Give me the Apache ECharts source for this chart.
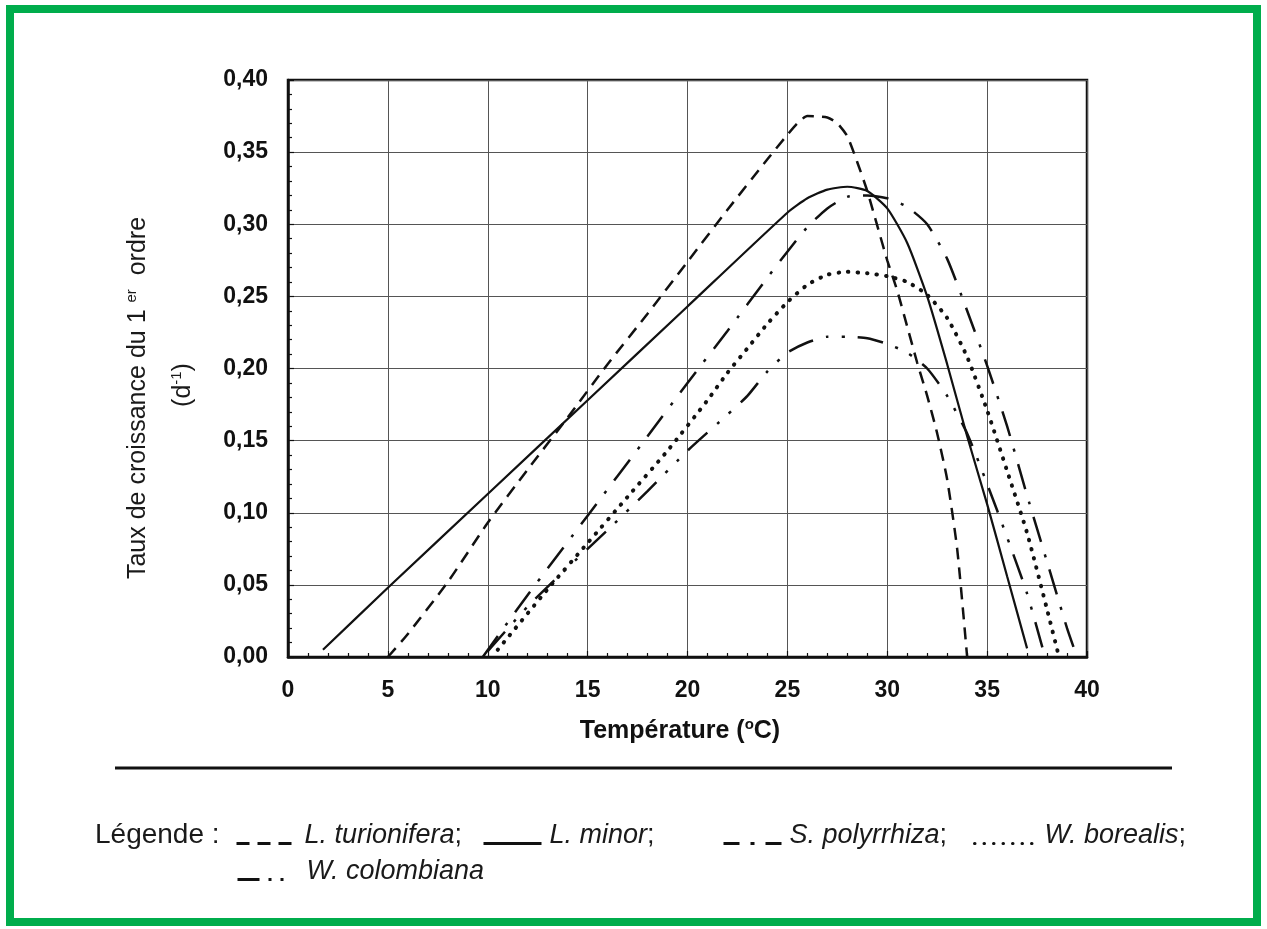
<!DOCTYPE html>
<html><head><meta charset="utf-8">
<script src="https://cdn.jsdelivr.net/npm/echarts@6/dist/echarts.min.js"></script>
<style>html,body{margin:0;padding:0;background:#fff;}#c{width:1267px;height:929px;}</style>
</head><body><div id="c"></div>
<script>
// ---- Data ----
const xTickValues = [0, 5, 10, 15, 20, 25, 30, 35, 40];
const yTickLabels = ['0,00', '0,05', '0,10', '0,15', '0,20', '0,25', '0,30', '0,35', '0,40'];
const seriesNames = ['L. turionifera', 'L. minor', 'S. polyrrhiza', 'W. borealis', 'W. colombiana'];

const turioniferaTemp = [5, 6, 8, 10, 12, 14, 16, 18, 20, 22, 24, 25, 25.5, 26, 27, 27.5, 28, 28.5, 29, 29.5, 30, 30.5, 31, 31.5, 32, 32.5, 33, 33.5, 34];
const turioniferaRate = [0, 0.016, 0.052, 0.093, 0.130, 0.166, 0.203, 0.238, 0.274, 0.310, 0.345, 0.362, 0.370, 0.375, 0.374, 0.370, 0.361, 0.343, 0.323, 0.299, 0.275, 0.254, 0.229, 0.204, 0.181, 0.155, 0.123, 0.075, 0.0];

const minorTemp = [1.75, 5, 10, 15, 20, 25, 26, 27, 28, 29, 30, 31, 32, 33, 34, 35, 36, 37];
const minorRate = [0.005, 0.048, 0.113, 0.178, 0.243, 0.308, 0.318, 0.324, 0.326, 0.323, 0.311, 0.287, 0.250, 0.203, 0.153, 0.106, 0.056, 0.006];

const polyrrhizaTemp = [9.75, 12, 15, 18, 20, 22, 24, 25, 26, 27, 28, 29, 30, 31, 32, 33, 34, 35, 36, 37, 38, 39, 39.5];
const polyrrhizaRate = [0.0, 0.043, 0.098, 0.153, 0.190, 0.226, 0.263, 0.281, 0.298, 0.311, 0.319, 0.320, 0.318, 0.312, 0.300, 0.276, 0.240, 0.202, 0.160, 0.112, 0.066, 0.020, 0.0];

const borealisTemp = [10.5, 13, 15, 17, 19, 21, 22, 23, 24, 25, 26, 27, 28, 29, 30, 31, 32, 33, 34, 35, 36, 37, 38, 38.6];
const borealisRate = [0.005, 0.047, 0.079, 0.111, 0.143, 0.178, 0.197, 0.214, 0.231, 0.246, 0.258, 0.265, 0.267, 0.266, 0.264, 0.260, 0.251, 0.235, 0.208, 0.171, 0.129, 0.086, 0.033, 0.0];

const colombianaTemp = [10, 12, 14, 16, 18, 20, 22, 23, 24, 25, 26, 27, 28, 29, 30, 31, 32, 33, 34, 35, 36, 37, 37.9];
const colombianaRate = [0.004, 0.035, 0.062, 0.088, 0.115, 0.143, 0.168, 0.181, 0.198, 0.211, 0.218, 0.222, 0.222, 0.221, 0.217, 0.211, 0.200, 0.181, 0.155, 0.120, 0.083, 0.044, 0.0];

// ---- Build ----
const FONT = "'Liberation Sans', Arial, Helvetica, sans-serif";
function pairs(xs, ys) { return xs.map((x, i) => [x, ys[i]]); }

const styles = [
  { type: [12, 8], width: 2.5, cap: 'butt', legendType: [13, 8], legendW: 60 },
  { type: 'solid', width: 2.2, cap: 'butt', legendType: 'solid', legendW: 58 },
  { type: [26, 13, 3, 13], width: 2.5, cap: 'butt', legendType: [16, 11, 4, 11], legendW: 58 },
  { type: [0.5, 9], width: 4, cap: 'round', legendType: [0.5, 9], legendW: 62 },
  { type: [26, 13, 3, 13, 3, 13], width: 2.5, cap: 'butt', legendType: [22, 9, 3, 9, 3, 9], legendW: 48 }
];
const dataSets = [
  pairs(turioniferaTemp, turioniferaRate),
  pairs(minorTemp, minorRate),
  pairs(polyrrhizaTemp, polyrrhizaRate),
  pairs(borealisTemp, borealisRate),
  pairs(colombianaTemp, colombianaRate)
];

const series = seriesNames.map((name, i) => ({
  name: name,
  type: 'line',
  data: dataSets[i],
  symbol: 'none',
  smooth: 0.2,
  color: '#111',
  lineStyle: { color: '#111', width: styles[i].width, type: styles[i].type, cap: styles[i].cap }
}));

const legendPos = [
  { left: 235, top: 822 },
  { left: 482, top: 822 },
  { left: 722, top: 822 },
  { left: 973, top: 822 },
  { left: 236, top: 858 }
];
const legends = seriesNames.map((name, i) => ({
  data: [name],
  left: legendPos[i].left,
  top: legendPos[i].top,
  padding: 0,
  itemWidth: styles[i].legendW,
  itemHeight: 14,
  itemGap: 0,
  selectedMode: false,
  itemStyle: { opacity: 0 },
  lineStyle: { width: 3, type: styles[i].legendType, cap: styles[i].cap, color: '#111' },
  formatter: n => '{i|' + n + '}' + (i < 4 ? '{n|;}' : ''),
  textStyle: {
    padding: [0, 0, 16, i === 4 ? 16 : 3],
    rich: {
      i: { fontFamily: FONT, fontSize: 27, fontStyle: 'italic', color: '#1a1a1a' },
      n: { fontFamily: FONT, fontSize: 27, color: '#1a1a1a' }
    }
  }
}));

const option = {
  backgroundColor: '#fff',
  animation: false,
  grid: { left: 288, right: 180, top: 80, bottom: 272, show: true, borderColor: '#111', borderWidth: 2.5, backgroundColor: 'transparent' },
  xAxis: {
    type: 'value', min: 0, max: 40, interval: 5,
    axisLine: { show: true, lineStyle: { color: '#111', width: 2.5 } },
    axisTick: { show: true, inside: true, length: 6, lineStyle: { color: '#111', width: 1.2 } },
    minorTick: { show: true, splitNumber: 5, length: 4, lineStyle: { color: '#111', width: 1.2 } },
    splitLine: { show: true, lineStyle: { color: '#555', width: 1 } },
    axisLabel: { margin: 22, fontFamily: FONT, fontSize: 23, fontWeight: 'bold', color: '#111',
      formatter: v => String(xTickValues[Math.round(v / 5)]) }
  },
  yAxis: {
    type: 'value', min: 0, max: 0.4, interval: 0.05,
    axisLine: { show: true, lineStyle: { color: '#111', width: 2.5 } },
    axisTick: { show: true, inside: true, length: 6, lineStyle: { color: '#111', width: 1.2 } },
    minorTick: { show: true, splitNumber: 5, length: 4, lineStyle: { color: '#111', width: 1.2 } },
    splitLine: { show: true, lineStyle: { color: '#555', width: 1 } },
    axisLabel: { margin: 20, fontFamily: FONT, fontSize: 23, fontWeight: 'bold', color: '#111',
      formatter: v => yTickLabels[Math.round(v / 0.05)] }
  },
  legend: legends,
  series: series,
  graphic: [
    { type: 'rect', shape: { x: 10, y: 9, width: 1247, height: 913 }, style: { fill: 'none', stroke: '#00ad4c', lineWidth: 8 }, z: 100 },
    { type: 'line', shape: { x1: 115, y1: 768, x2: 1172, y2: 768 }, style: { stroke: '#111', lineWidth: 3 } },
    { type: 'text', x: 95, y: 835, style: { text: 'Légende :', fontFamily: FONT, fontSize: 28, fill: '#1a1a1a', textVerticalAlign: 'middle', textAlign: 'left' } },
    { type: 'text', x: 680, y: 731, style: {
        text: '{b|Température (}{s|o}{b|C)}', textAlign: 'center', textVerticalAlign: 'middle',
        rich: {
          b: { fontFamily: FONT, fontSize: 25, fontWeight: 'bold', fill: '#111', lineHeight: 28 },
          s: { fontFamily: FONT, fontSize: 15, fontWeight: 'bold', fill: '#111', verticalAlign: 'top' }
        } } },
    { type: 'text', x: 138, y: 398, rotation: Math.PI / 2, style: {
        text: '{t|Taux de croissance du 1 }{s|er}{t|  ordre}', textAlign: 'center', textVerticalAlign: 'middle',
        rich: {
          t: { fontFamily: FONT, fontSize: 25, fill: '#1a1a1a', lineHeight: 28 },
          s: { fontFamily: FONT, fontSize: 15, fill: '#1a1a1a', verticalAlign: 'top' }
        } } },
    { type: 'text', x: 183, y: 385, rotation: Math.PI / 2, style: {
        text: '{t|(d}{s|-1}{t|)}', textAlign: 'center', textVerticalAlign: 'middle',
        rich: {
          t: { fontFamily: FONT, fontSize: 25, fill: '#1a1a1a', lineHeight: 28 },
          s: { fontFamily: FONT, fontSize: 15, fill: '#1a1a1a', verticalAlign: 'top' }
        } } }
  ]
};

const chart = echarts.init(document.getElementById('c'), null, { renderer: 'canvas' });
chart.setOption(option);
</script>
</body></html>
